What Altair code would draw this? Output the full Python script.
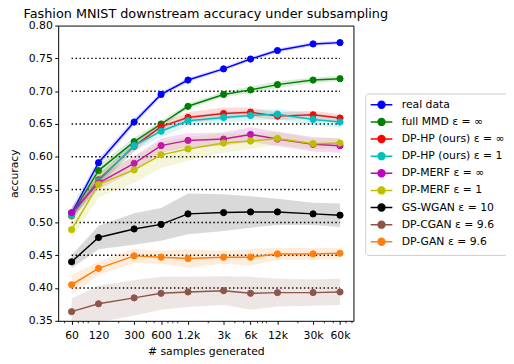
import altair as alt
import pandas as pd

x_samples = [60, 120, 300, 600, 1200, 3000, 6000, 12000, 30000, 60000]
minor_ticks = [50, 70, 80, 90, 200, 400, 500, 700, 800, 900,
               2000, 4000, 5000, 7000, 8000, 9000, 20000, 40000, 50000, 70000, 80000]
y_ticks = [0.35, 0.40, 0.45, 0.50, 0.55, 0.60, 0.65, 0.70, 0.75, 0.80]
grid_levels = [0.40, 0.45, 0.50, 0.55, 0.60, 0.65, 0.70, 0.75]
grid_span = [60, 60000]

series_names = ["real data", "full MMD ε = ∞", "DP-HP (ours) ε = ∞", "DP-HP (ours) ε = 1",
                "DP-MERF ε = ∞", "DP-MERF ε = 1", "GS-WGAN ε = 10", "DP-CGAN ε = 9.6",
                "DP-GAN ε = 9.6"]
series_colors = ["#0000ff", "#008000", "#ff0000", "#00bfbf", "#bf00bf", "#bfbf00",
                 "#000000", "#8c564b", "#ff7f0e"]

real_data = [0.514, 0.591, 0.653, 0.695, 0.717, 0.734, 0.749, 0.762, 0.772, 0.774]
full_mmd = [0.512, 0.579, 0.623, 0.650, 0.677, 0.695, 0.702, 0.710, 0.717, 0.719]
hp_inf = [0.510, 0.565, 0.616, 0.646, 0.660, 0.666, 0.668, 0.662, 0.664, 0.659]
hp_1 = [0.511, 0.563, 0.617, 0.639, 0.655, 0.660, 0.663, 0.665, 0.657, 0.653]
merf_inf = [0.515, 0.560, 0.590, 0.617, 0.625, 0.627, 0.634, 0.627, 0.619, 0.617]
merf_1 = [0.489, 0.558, 0.580, 0.603, 0.612, 0.621, 0.624, 0.628, 0.620, 0.621]
gs_wgan = [0.440, 0.477, 0.490, 0.497, 0.513, 0.515, 0.516, 0.516, 0.513, 0.511]
dp_cgan = [0.364, 0.376, 0.385, 0.392, 0.394, 0.396, 0.392, 0.393, 0.393, 0.394]
dp_gan = [0.405, 0.430, 0.449, 0.447, 0.445, 0.447, 0.447, 0.452, 0.452, 0.453]

real_std = [0.008, 0.006, 0.005, 0.004, 0.003, 0.003, 0.003, 0.003, 0.003, 0.003]
full_std = [0.008, 0.008, 0.006, 0.005, 0.004, 0.004, 0.005, 0.005, 0.004, 0.004]
hp_inf_std = [0.008, 0.007, 0.007, 0.007, 0.008, 0.009, 0.007, 0.006, 0.006, 0.006]
hp_1_std = [0.008, 0.008, 0.009, 0.009, 0.008, 0.008, 0.008, 0.008, 0.009, 0.009]
merf_inf_std = [0.008, 0.010, 0.011, 0.011, 0.011, 0.010, 0.011, 0.011, 0.011, 0.011]
merf_1_std = [0.015, 0.020, 0.020, 0.020, 0.018, 0.015, 0.012, 0.010, 0.008, 0.008]
gs_wgan_std = [0.010, 0.018, 0.024, 0.025, 0.031, 0.028, 0.024, 0.020, 0.017, 0.018]
dp_cgan_std = [0.020, 0.028, 0.027, 0.025, 0.023, 0.022, 0.025, 0.021, 0.020, 0.020]
dp_gan_std = [0.015, 0.010, 0.011, 0.010, 0.014, 0.010, 0.013, 0.009, 0.009, 0.008]

means = [real_data, full_mmd, hp_inf, hp_1, merf_inf, merf_1, gs_wgan, dp_cgan, dp_gan]
stds = [real_std, full_std, hp_inf_std, hp_1_std, merf_inf_std, merf_1_std,
        gs_wgan_std, dp_cgan_std, dp_gan_std]

rows = []
for name, m, s in zip(series_names, means, stds):
    for xv, mv, sv in zip(x_samples, m, s):
        rows.append({"series": name, "x": xv, "acc": mv, "lo": mv - sv, "hi": mv + sv})
df = pd.DataFrame(rows)
grid_df = pd.DataFrame({"y": grid_levels, "x0": grid_span[0], "x1": grid_span[1]})
minor_df = pd.DataFrame({"t": minor_ticks})

FONT = "DejaVu Sans"
xs = alt.Scale(type="log", domain=[42.5, 84800], nice=False)
ys = alt.Scale(domain=[0.35, 0.80], nice=False, zero=False)
cs = alt.Scale(domain=series_names, range=series_colors)

x_axis = alt.Axis(values=x_samples, title="# samples generated", grid=False, domain=False,
                  labelExpr="datum.value >= 1000 ? (datum.value / 1000) + 'k' : '' + datum.value",
                  tickSize=3.5, labelPadding=5, titlePadding=6, labelFlush=False)
y_axis = alt.Axis(values=y_ticks, format=".2f", title="accuracy", grid=False, domain=False,
                  tickSize=3.5, labelPadding=2.5, titlePadding=9)
minor_axis = alt.Axis(values=minor_ticks, labels=False, title="", grid=False, domain=False,
                      tickSize=2, tickWidth=0.8, orient="bottom")

legend = alt.Legend(orient="none", legendX=312, legendY=69, title=None,
                    symbolType="M-2.75,0L2.75,0M0.875,0A0.875,0.875,0,1,1,-0.875,0A0.875,0.875,0,1,1,0.875,0Z",
                    symbolSize=64, symbolStrokeWidth=1.5, symbolOffset=5, labelOffset=15,
                    symbolOpacity=1,
                    labelFont=FONT, labelFontSize=11, labelColor="black", rowPadding=4.4,
                    padding=6, strokeColor="#cccccc", fillColor="white", cornerRadius=3)

rules = alt.Chart(grid_df).mark_rule(color="black", strokeDash=[1.5, 2.5], strokeWidth=1.5).encode(
    x=alt.X("x0:Q", scale=xs, axis=x_axis),
    x2="x1:Q",
    y=alt.Y("y:Q", scale=ys, axis=y_axis),
)

layers = [rules]
base = alt.Chart(df)
for name in series_names:
    sub = base.transform_filter(alt.FieldEqualPredicate(field="series", equal=name))
    band = sub.mark_area(opacity=0.15, clip=True).encode(
        x=alt.X("x:Q", scale=xs, axis=x_axis),
        y=alt.Y("lo:Q", scale=ys, axis=y_axis),
        y2="hi:Q",
        fill=alt.Fill("series:N", scale=cs, legend=legend),
    )
    line = sub.mark_line(strokeWidth=1.5, clip=True).encode(
        x=alt.X("x:Q", scale=xs, axis=x_axis),
        y=alt.Y("acc:Q", scale=ys, axis=y_axis),
        stroke=alt.Stroke("series:N", scale=cs, legend=legend),
    )
    pts = sub.mark_point(filled=True, size=40, strokeWidth=1, opacity=1).encode(
        x=alt.X("x:Q", scale=xs, axis=x_axis),
        y=alt.Y("acc:Q", scale=ys, axis=y_axis),
        fill=alt.Fill("series:N", scale=cs, legend=legend),
        stroke=alt.Stroke("series:N", scale=cs, legend=legend),
    )
    layers += [band, line, pts]

main = alt.layer(*layers)
minor = alt.Chart(minor_df).mark_point(opacity=0).encode(
    x=alt.X("t:Q", scale=xs, axis=minor_axis),
    y=alt.value(0),
)

chart = alt.layer(main, minor).resolve_axis(x="independent").properties(
    width=300, height=300,
    title=alt.TitleParams("Fashion MNIST downstream accuracy under subsampling", font=FONT,
                          fontSize=13, fontWeight="normal", color="black", anchor="middle",
                          offset=-1),
    autosize=alt.AutoSizeParams(type="none"),
    padding={"left": 51, "top": 15, "right": 155, "bottom": 41},
).configure_view(stroke="black", strokeWidth=1).configure_axis(
    labelFont=FONT, labelFontSize=11, labelColor="black", tickColor="black",
    titleFont=FONT, titleFontSize=11, titleFontWeight="normal", titleColor="black",
    tickWidth=1,
)

chart.save("out.html", embed_options={"renderer": "svg", "actions": False})
